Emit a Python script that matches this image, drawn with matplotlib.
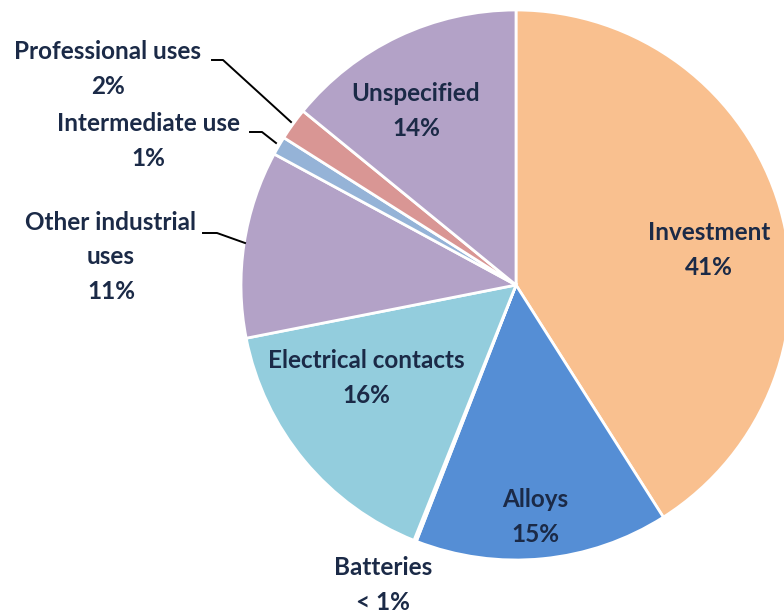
import matplotlib.pyplot as plt

labels = ["Investment", "Alloys", "Batteries", "Electrical contacts",
          "Other industrial\nuses", "Intermediate use", "Professional uses", "Unspecified"]
shares = [41.0, 14.9, 0.15, 15.85, 11.0, 1.1, 1.9, 14.1]
pct_text = ["41%", "15%", "< 1%", "16%", "11%", "1%", "2%", "14%"]
colors = ["#F9C08F", "#558ED5", "#93CDDD", "#93CDDD",
          "#B3A2C7", "#95B3D7", "#D99694", "#B3A2C7"]

# label centres in pie units (radius 1)
label_pos = [(0.702, 0.127), (0.069, -0.844), (-0.484, -1.091), (-0.545, -0.338),
             (-1.473, 0.102), (-1.338, 0.524), (-1.484, 0.785), (-0.364, 0.633)]

# leader lines for the outside labels (pixel coords -> pie units below)
leaders = {
    4: [(203, 233), (217, 233), (245, 243)],
    5: [(250, 132), (262, 132), (276, 143)],
    6: [(212, 60), (223, 60), (291, 122)],
}

cx, cy, r = 516, 285, 275
txt_color = "#1B2A47"

fig = plt.figure(figsize=(7.84, 6.14), dpi=100)
ax = fig.add_axes([(cx - r) / 784, (614 - cy - r) / 614, 2 * r / 784, 2 * r / 614])
ax.axis("off")

ax.pie(shares, colors=colors, startangle=90, counterclock=False, radius=1,
       wedgeprops=dict(edgecolor="white", linewidth=2))
ax.set_xlim(-1, 1)
ax.set_ylim(-1, 1)

for lab, pct, (x, y) in zip(labels, pct_text, label_pos):
    ax.text(x, y, lab + "\n" + pct, ha="center", va="center", fontsize=17.5,
            fontweight="bold", family="Lato", color=txt_color,
            linespacing=1.6, clip_on=False)

for i, pts in leaders.items():
    xs = [(px - cx) / r for px, py in pts]
    ys = [(cy - py) / r for px, py in pts]
    ax.plot(xs, ys, color="black", lw=1.4, clip_on=False)

fig.savefig("out.png", dpi=100)
